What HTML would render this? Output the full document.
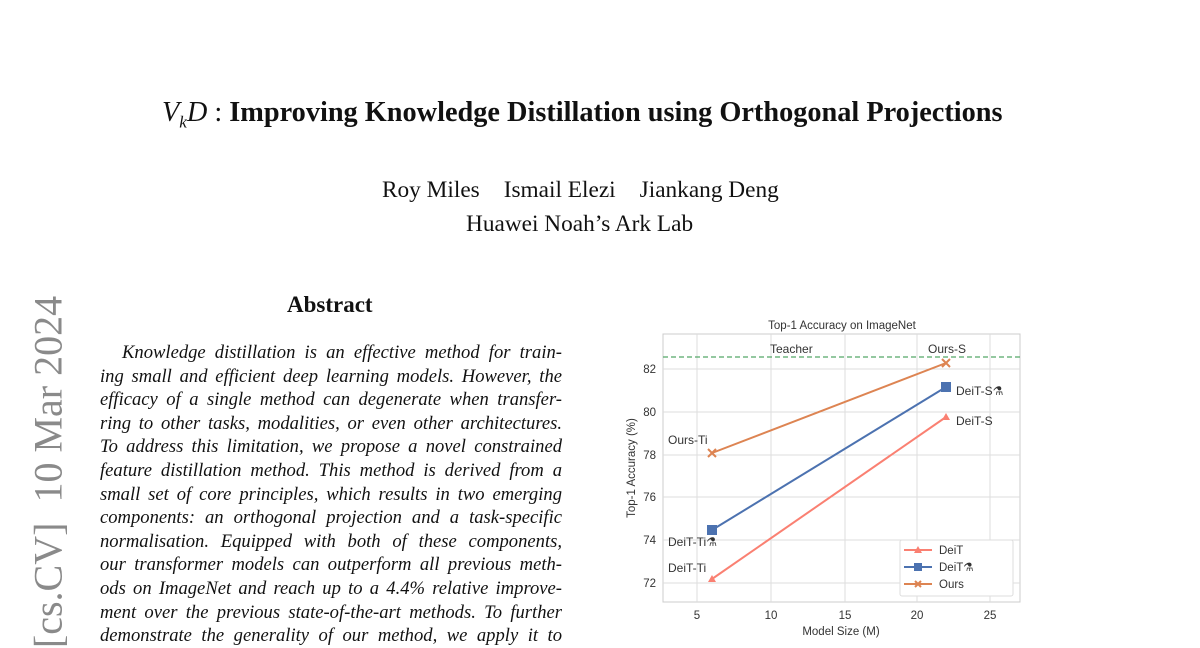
<!DOCTYPE html>
<html><head><meta charset="utf-8"><style>
body{margin:0;width:1200px;height:648px;background:#fff;position:relative;overflow:hidden;font-family:"Liberation Serif",serif;color:#111}
.a{position:absolute;white-space:nowrap}
.ln{position:absolute;left:100px;width:462px;font-style:italic;font-size:18.6px;text-align:justify;text-align-last:justify;white-space:nowrap;line-height:20px}
svg text{font-family:"Liberation Sans",sans-serif;fill:#333}
</style></head><body>
<div class="a" style="left:162px;top:97px;font-size:28.3px;"><i>V<sub style="font-size:17px">k</sub>D</i> : <b>Improving Knowledge Distillation using Orthogonal Projections</b></div>
<div class="a" style="left:382px;top:177px;font-size:23.3px;word-spacing:0px">Roy Miles<span style="display:inline-block;width:24px"></span>Ismail Elezi<span style="display:inline-block;width:24px"></span>Jiankang Deng</div>
<div class="a" style="left:466px;top:211px;font-size:23.3px;">Huawei Noah’s Ark Lab</div>
<div class="a" style="left:287px;top:292px;font-size:23px;font-weight:bold">Abstract</div>
<div class="a" style="left:48px;top:472px;font-size:40px;color:#8a8a8a;transform:translate(-50%,-50%) rotate(-90deg);transform-origin:center">[cs.CV]&nbsp;&nbsp;10 Mar 2024</div>
<div class="ln" style="top:343px;left:122px;width:440px">Knowledge distillation is an effective method for train-</div>
<div class="ln" style="top:367px">ing small and efficient deep learning models. However, the</div>
<div class="ln" style="top:390px">efficacy of a single method can degenerate when transfer-</div>
<div class="ln" style="top:414px">ring to other tasks, modalities, or even other architectures.</div>
<div class="ln" style="top:437px">To address this limitation, we propose a novel constrained</div>
<div class="ln" style="top:461px">feature distillation method. This method is derived from a</div>
<div class="ln" style="top:485px">small set of core principles, which results in two emerging</div>
<div class="ln" style="top:508px">components: an orthogonal projection and a task-specific</div>
<div class="ln" style="top:532px">normalisation. Equipped with both of these components,</div>
<div class="ln" style="top:555px">our transformer models can outperform all previous meth-</div>
<div class="ln" style="top:579px">ods on ImageNet and reach up to a 4.4% relative improve-</div>
<div class="ln" style="top:603px">ment over the previous state-of-the-art methods. To further</div>
<div class="ln" style="top:626px">demonstrate the generality of our method, we apply it to</div>
<svg style="position:absolute;left:0;top:0" width="1200" height="648">
<rect x="663" y="334" width="357" height="268" fill="#fff" stroke="#ccc" stroke-width="1"/>
<g stroke="#ddd" stroke-width="1">
<line x1="697" y1="334" x2="697" y2="602"/><line x1="771" y1="334" x2="771" y2="602"/><line x1="845" y1="334" x2="845" y2="602"/><line x1="917" y1="334" x2="917" y2="602"/><line x1="990" y1="334" x2="990" y2="602"/>
<line x1="663" y1="369" x2="1020" y2="369"/><line x1="663" y1="412" x2="1020" y2="412"/><line x1="663" y1="455" x2="1020" y2="455"/><line x1="663" y1="497" x2="1020" y2="497"/><line x1="663" y1="540" x2="1020" y2="540"/><line x1="663" y1="583" x2="1020" y2="583"/>
</g>
<line x1="663" y1="357" x2="1020" y2="357" stroke="#55a868" stroke-width="1.3" stroke-dasharray="5,3"/>
<g font-size="11.5" text-anchor="end"><text x="656" y="373">82</text><text x="656" y="416">80</text><text x="656" y="459">78</text><text x="656" y="501">76</text><text x="656" y="544">74</text><text x="656" y="587">72</text></g>
<g font-size="11.5" text-anchor="middle"><text x="697" y="619">5</text><text x="771" y="619">10</text><text x="845" y="619">15</text><text x="917" y="619">20</text><text x="990" y="619">25</text>
<text x="841" y="635">Model Size (M)</text><text x="842" y="329">Top-1 Accuracy on ImageNet</text></g>
<text x="635" y="468" font-size="11.5" text-anchor="middle" transform="rotate(-90 635 468)">Top-1 Accuracy (%)</text>
<polyline points="712,453 946,363" stroke="#dd8452" stroke-width="2" fill="none"/>
<polyline points="712,530 946,387" stroke="#4c72b0" stroke-width="2" fill="none"/>
<polyline points="712,579 946,417" stroke="#fa8072" stroke-width="2" fill="none"/>
<g stroke="#dd8452" stroke-width="2"><path d="M708,449l8,8M716,449l-8,8M942,359l8,8M950,359l-8,8"/></g>
<rect x="707" y="525" width="10" height="10" fill="#4c72b0"/><rect x="941" y="382" width="10" height="10" fill="#4c72b0"/>
<path d="M712,575l4,7h-8z M946,413l4,7h-8z" fill="#fa8072"/>
<g font-size="12"><text x="770" y="353">Teacher</text><text x="928" y="353">Ours-S</text><text x="956" y="395">DeiT-S⚗</text><text x="956" y="425">DeiT-S</text>
<text x="668" y="444">Ours-Ti</text><text x="668" y="546">DeiT-Ti⚗</text><text x="668" y="572">DeiT-Ti</text></g>
<rect x="900" y="540" width="113" height="56" fill="#fff" stroke="#ddd" rx="2"/>
<g stroke-width="2"><line x1="904" y1="550" x2="932" y2="550" stroke="#fa8072"/><line x1="904" y1="567" x2="932" y2="567" stroke="#4c72b0"/><line x1="904" y1="584" x2="932" y2="584" stroke="#dd8452"/></g>
<path d="M918,546l4,7h-8z" fill="#fa8072"/><rect x="914" y="563" width="8" height="8" fill="#4c72b0"/>
<path d="M915,581l6,6M921,581l-6,6" stroke="#dd8452" stroke-width="2"/>
<g font-size="11.5"><text x="939" y="554">DeiT</text><text x="939" y="571">DeiT⚗</text><text x="939" y="588">Ours</text></g>
</svg>
</body></html>
